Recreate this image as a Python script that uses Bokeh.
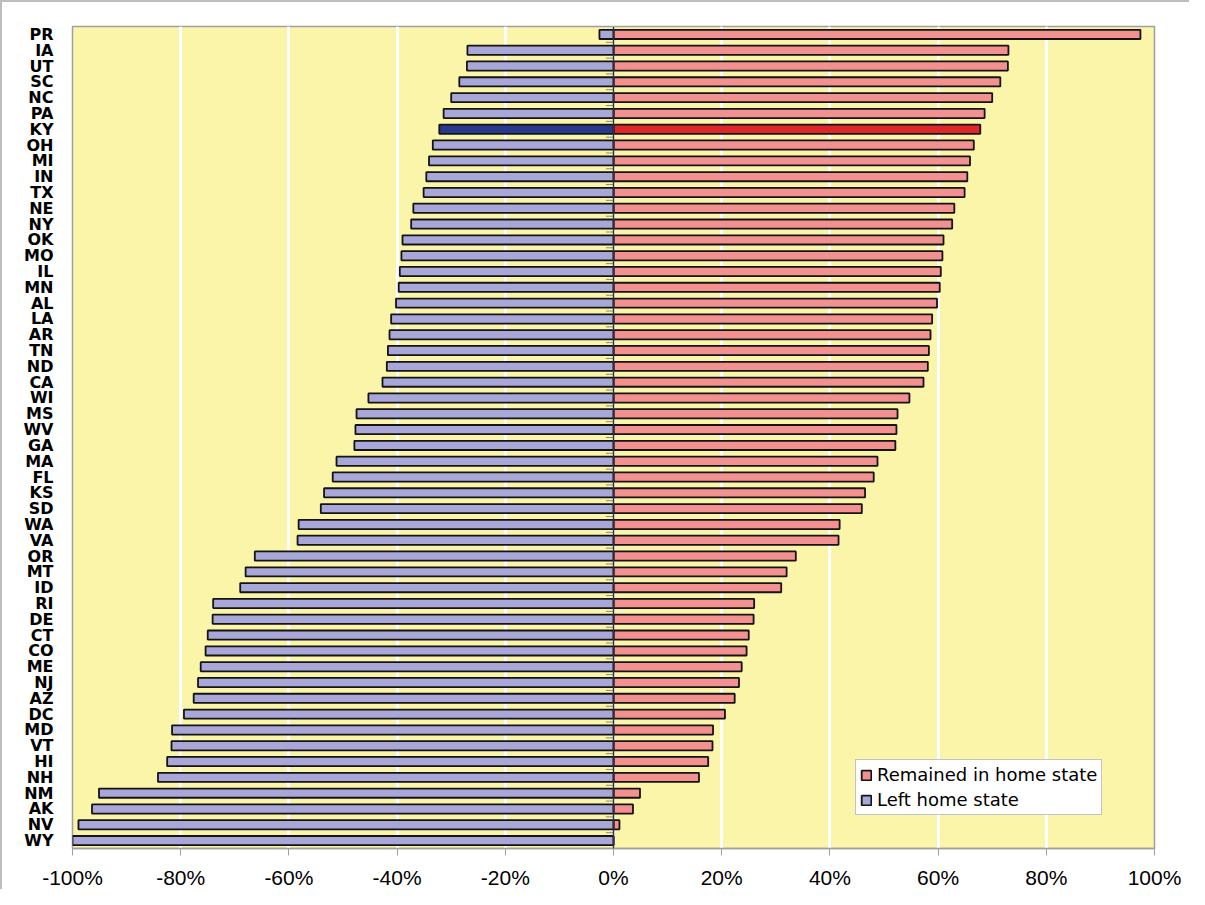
from bokeh.plotting import figure
from bokeh.models import (ColumnDataSource, FixedTicker, PrintfTickFormatter, Range1d,
                          Span, Legend, LegendItem)
from bokeh.embed import file_html
from bokeh.resources import INLINE

states = ["PR", "IA", "UT", "SC", "NC", "PA", "KY", "OH", "MI", "IN", "TX", "NE", "NY",
          "OK", "MO", "IL", "MN", "AL", "LA", "AR", "TN", "ND", "CA", "WI", "MS", "WV",
          "GA", "MA", "FL", "KS", "SD", "WA", "VA", "OR", "MT", "ID", "RI", "DE", "CT",
          "CO", "ME", "NJ", "AZ", "DC", "MD", "VT", "HI", "NH", "NM", "AK", "NV", "WY"]

remained = [97.4, 73.0, 72.9, 71.5, 70.0, 68.6, 67.8, 66.6, 65.9, 65.4, 64.9, 63.0, 62.6,
            61.0, 60.8, 60.5, 60.3, 59.8, 58.9, 58.6, 58.3, 58.1, 57.3, 54.7, 52.5, 52.3,
            52.1, 48.8, 48.1, 46.5, 45.9, 41.8, 41.6, 33.7, 32.0, 31.0, 26.0, 25.9, 25.0,
            24.6, 23.7, 23.2, 22.4, 20.6, 18.4, 18.3, 17.5, 15.8, 4.9, 3.6, 1.1, 0.0]

left = [-2.6, -27.0, -27.1, -28.5, -30.0, -31.4, -32.2, -33.4, -34.1, -34.6, -35.1, -37.0,
        -37.4, -39.0, -39.2, -39.5, -39.7, -40.2, -41.1, -41.4, -41.7, -41.9, -42.7, -45.3,
        -47.5, -47.7, -47.9, -51.2, -51.9, -53.5, -54.1, -58.2, -58.4, -66.3, -68.0, -69.0,
        -74.0, -74.1, -75.0, -75.4, -76.3, -76.8, -77.6, -79.4, -81.6, -81.7, -82.5, -84.2,
        -95.1, -96.4, -98.9, -100.0]

highlight = "KY"
x_ticks = [-100, -80, -60, -40, -20, 0, 20, 40, 60, 80, 100]

PINK, LAV = "#F2918F", "#A8A7D7"
RED, NAVY = "#E02626", "#27398C"

idx = list(range(len(states)))
src = ColumnDataSource(dict(
    y=idx, state=states, remained=remained, left=left,
    rc=[RED if s == highlight else PINK for s in states],
    lc=[NAVY if s == highlight else LAV for s in states],
))

p = figure(width=1189, height=889, output_backend="svg", toolbar_location=None,
           x_range=Range1d(-100, 100), y_range=Range1d(len(states) - 0.5, -0.5),
           min_border_left=70, min_border_right=37, min_border_top=24, min_border_bottom=37)

p.background_fill_color = "#FBF5A9"
p.border_fill_color = "white"
p.outline_line_color = "#a0a0a0"
p.outline_line_width = 1.5
p.styles = {"border-top": "2px solid #bdbdbd", "border-left": "2px solid #bdbdbd"}

# grid
p.ygrid.grid_line_color = None
p.xgrid.ticker = FixedTicker(ticks=x_ticks[1:-1])
p.xgrid.grid_line_color = "white"
p.xgrid.grid_line_width = 3
p.xgrid.grid_line_alpha = 1

r_rem = p.hbar(y="y", left=0, right="remained", height=0.58, source=src,
               fill_color="rc", line_color="#141414", line_width=1.8)
r_left = p.hbar(y="y", left="left", right=0, height=0.58, source=src,
                fill_color="lc", line_color="#141414", line_width=1.8)

# category axis crossing at zero with small ticks between categories
p.add_layout(Span(location=0, dimension="height", line_color="#303030", line_width=1.5))
bounds = [i + 0.5 for i in idx[:-1]]
p.segment(x0=[-1.4] * len(bounds), x1=[0] * len(bounds), y0=bounds, y1=bounds,
          line_color="#8a8a8a", line_width=1)

# x axis
xa = p.xaxis[0]
xa.ticker = FixedTicker(ticks=x_ticks)
xa.formatter = PrintfTickFormatter(format="%d%%")
xa.axis_line_color = "#a0a0a0"
xa.axis_line_width = 1.5
xa.major_tick_line_color = "#a0a0a0"
xa.major_tick_in = 0
xa.major_tick_out = 7
xa.minor_tick_line_color = None
xa.major_label_text_font = "Liberation Sans"
xa.major_label_text_font_size = "21px"
xa.major_label_text_color = "black"
xa.major_label_standoff = 10

# y axis
ya = p.yaxis[0]
ya.ticker = FixedTicker(ticks=idx)
ya.major_label_overrides = {i: s for i, s in zip(idx, states)}
ya.axis_line_color = None
ya.major_tick_line_color = None
ya.minor_tick_line_color = None
ya.major_label_text_font = "DejaVu Sans"
ya.major_label_text_font_style = "bold"
ya.major_label_text_font_size = "16px"
ya.major_label_text_color = "black"
ya.major_label_standoff = 13

legend = Legend(items=[LegendItem(label="Remained in home state", renderers=[r_rem], index=0),
                       LegendItem(label="Left home state", renderers=[r_left], index=0)],
                location=(783, 33))
legend.background_fill_color = "white"
legend.background_fill_alpha = 1
legend.border_line_color = "#8a8a8a"
legend.border_line_width = 1
legend.label_text_font = "DejaVu Sans"
legend.label_text_font_size = "18px"
legend.label_text_color = "black"
legend.glyph_width = 12
legend.glyph_height = 12
legend.label_standoff = 5
legend.label_height = 20
legend.padding = 4
legend.spacing = 4
legend.margin = 0
p.add_layout(legend)

with open("out.html", "w") as f:
    f.write(file_html(p, INLINE))
